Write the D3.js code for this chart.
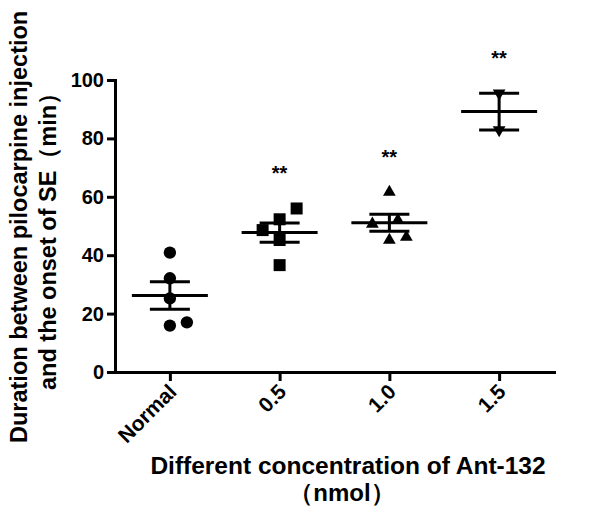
<!DOCTYPE html>
<html>
<head>
<meta charset="utf-8">
<script src="https://cdn.jsdelivr.net/npm/d3@7"></script>
<style>
  html, body { margin: 0; padding: 0; background: #fff; }
  svg { display: block; }
  text { font-family: Arial, "Liberation Sans", sans-serif; font-weight: bold; fill: #000; }
</style>
</head>
<body>
<svg id="chart" width="600" height="517"></svg>
<script>
// ---- data ----
const categories = ["Normal", "0.5", "1.0", "1.5"];
const normalValues = [40.9, 32.1, 25.2, 15.9, 17.0];
const dose05Values = [56.0, 52.3, 48.6, 45.2, 36.6];
const dose10Values = [61.6, 50.7, 52.0, 45.2, 46.2];
const dose15Values = [95.5, 82.9];
// horizontal dodge slots of each point (as placed in the picture)
const normalDodge = [0, 0, 0, 0, 1];
const dose05Dodge = [1, 0, -1, 0, 0];
const dose10Dodge = [0, -1, 0.5, 0, 1];
const dose15Dodge = [0, 0];
const significance = ["", "**", "**", "**"];
const yTicks = [0, 20, 40, 60, 80, 100];
const yTitleLines = ["Duration between pilocarpine injection", "and the onset of SE\uFF08min\uFF09"];
const xTitleLines = ["Different concentration of Ant-132", "\uFF08nmol\uFF09"];

const groups = [
  { name: categories[0], values: normalValues, dodge: normalDodge, symbol: d3.symbolCircle, rot: 0, size: 120 },
  { name: categories[1], values: dose05Values, dodge: dose05Dodge, symbol: d3.symbolSquare, rot: 0, size: 144 },
  { name: categories[2], values: dose10Values, dodge: dose10Dodge, symbol: d3.symbolTriangle, rot: 0, size: 70 },
  { name: categories[3], values: dose15Values, dodge: dose15Dodge, symbol: d3.symbolTriangle, rot: 180, size: 70 }
];

const svg = d3.select("#chart");

const x = d3.scalePoint().domain(categories).range([115, 554]).padding(0.5);
const y = d3.scaleLinear().domain([0, 100]).range([372, 80]);
const dodge = d3.scaleLinear().domain([-1, 1]).range([-17, 17]);

// axes
const yAxis = svg.append("g")
  .attr("transform", "translate(115,0)")
  .call(d3.axisLeft(y).tickValues(yTicks).tickSize(8).tickSizeOuter(0).tickPadding(3));
const xAxis = svg.append("g")
  .attr("transform", "translate(0,372)")
  .call(d3.axisBottom(x).tickSize(9).tickSizeOuter(0).tickFormat(""));

[yAxis, xAxis].forEach(g => {
  g.selectAll("path.domain").attr("stroke", "#000").attr("stroke-width", 3).attr("stroke-linecap", "square");
  g.selectAll(".tick line").attr("stroke", "#000").attr("stroke-width", 3);
});
yAxis.selectAll(".tick text")
  .style("font-family", "Arial, 'Liberation Sans', sans-serif")
  .style("font-weight", "bold")
  .style("font-size", "20px")
  .attr("fill", "#000");

// rotated x tick labels
svg.append("g").selectAll("text")
  .data(categories)
  .join("text")
  .attr("transform", d => `translate(${x(d) + 8},${393}) rotate(-45)`)
  .attr("text-anchor", "end")
  .style("font-size", "21px")
  .text(d => d);

// titles
svg.append("text")
  .attr("x", 348).attr("y", 474)
  .attr("text-anchor", "middle")
  .style("font-size", "24.5px")
  .text(xTitleLines[0]);
svg.append("text")
  .attr("x", 342).attr("y", 501)
  .attr("text-anchor", "middle")
  .style("font-size", "24px")
  .text(xTitleLines[1]);

svg.append("text")
  .attr("transform", "translate(27,443) rotate(-90)")
  .attr("text-anchor", "start")
  .style("font-size", "23.5px")
  .text(yTitleLines[0]);
svg.append("text")
  .attr("transform", "translate(56,390) rotate(-90)")
  .attr("text-anchor", "start")
  .style("font-size", "23.5px")
  .text(yTitleLines[1]);

// groups: points, mean and SEM
const gPlot = svg.append("g");
groups.forEach((grp, gi) => {
  const cx = x(grp.name);
  const mean = d3.mean(grp.values);
  const sem = d3.deviation(grp.values) / Math.sqrt(grp.values.length);
  const sym = d3.symbol().type(grp.symbol).size(grp.size);

  gPlot.append("g").selectAll("path")
    .data(grp.values)
    .join("path")
    .attr("d", sym)
    .attr("fill", "#000")
    .attr("transform", (v, i) => `translate(${cx + dodge(grp.dodge[i])},${y(v)}) rotate(${grp.rot})`);

  const lines = [
    [cx - 38, y(mean), cx + 38, y(mean)],
    [cx - 20, y(mean + sem), cx + 20, y(mean + sem)],
    [cx - 20, y(mean - sem), cx + 20, y(mean - sem)],
    [cx, y(mean + sem), cx, y(mean - sem)]
  ];
  gPlot.append("g").selectAll("line")
    .data(lines)
    .join("line")
    .attr("x1", d => d[0]).attr("y1", d => d[1])
    .attr("x2", d => d[2]).attr("y2", d => d[3])
    .attr("stroke", "#000").attr("stroke-width", 3);

  if (significance[gi]) {
    gPlot.append("text")
      .attr("x", cx).attr("y", y(d3.max(grp.values)) - 28)
      .attr("text-anchor", "middle")
      .style("font-size", "20px")
      .text(significance[gi]);
  }
});
</script>
</body>
</html>
